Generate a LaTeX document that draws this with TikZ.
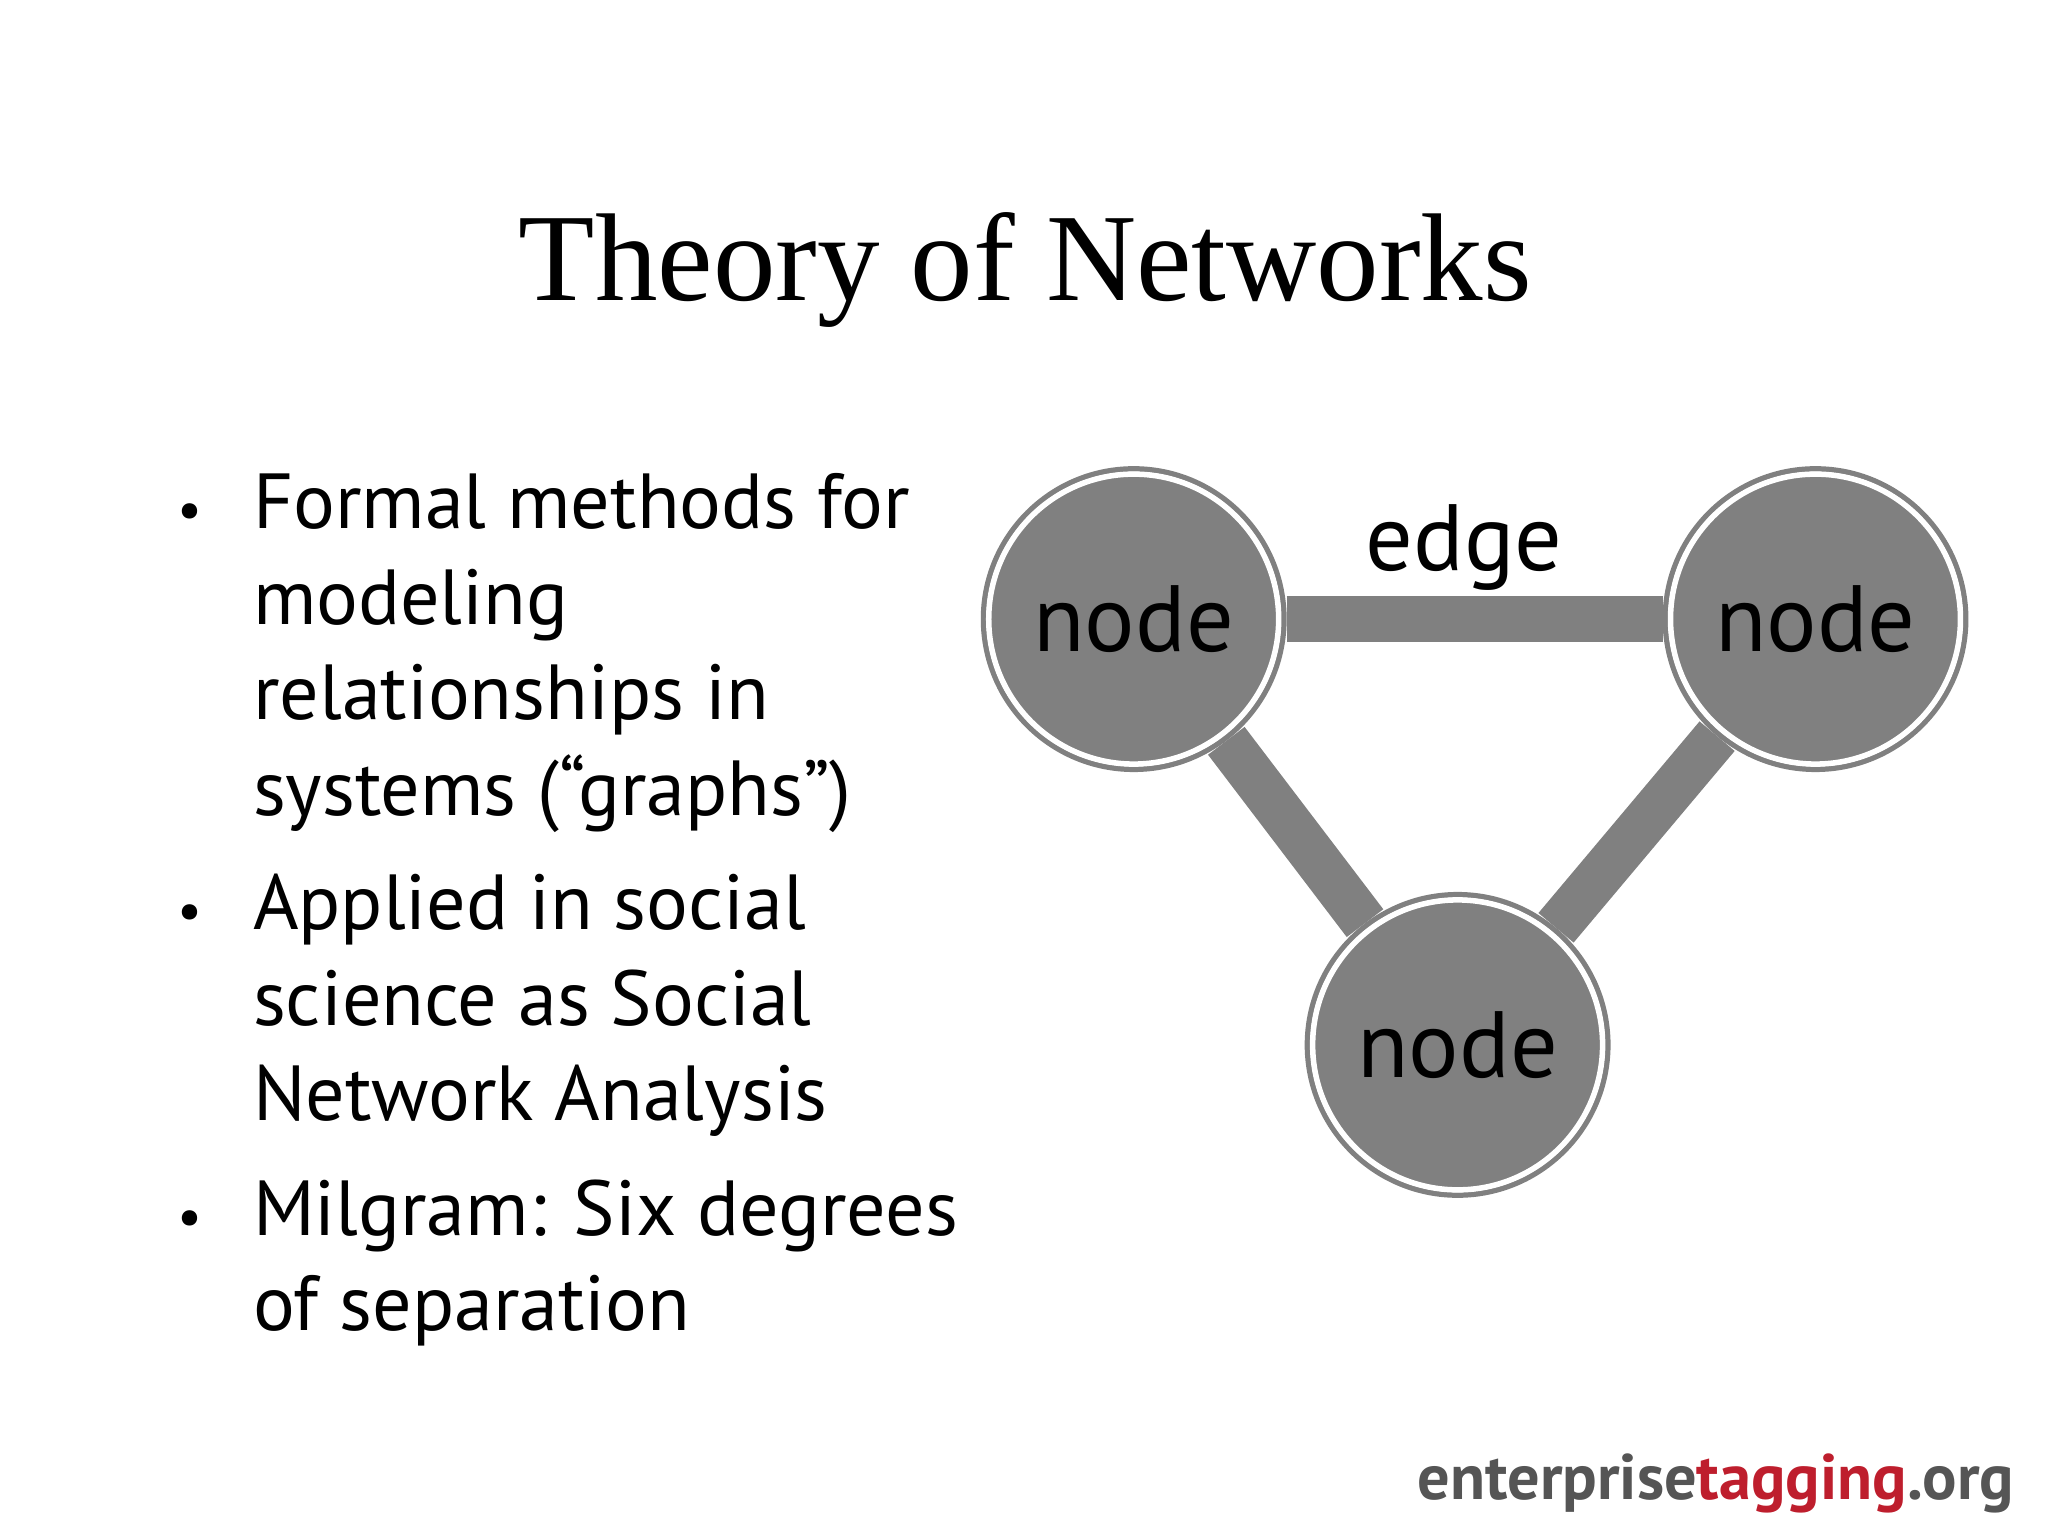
\documentclass[tikz,border=0pt]{standalone}
\usepackage{fontspec}
\setmainfont{Liberation Serif}
\newfontfamily\bodyfont{PT Sans}
\newfontfamily\logofont{PT Sans}
\definecolor{ngray}{RGB}{128,128,128}
\definecolor{logogray}{RGB}{85,85,85}
\definecolor{logored}{RGB}{190,30,45}
\begin{document}
\begin{tikzpicture}[x=0.01cm,y=-0.01cm,
  line/.style={font=\bodyfont\fontsize{17}{20}\selectfont,anchor=base west,inner sep=0},
  netnode/.style={circle,fill=ngray,draw=white,line width=1.2pt,minimum size=222*0.01cm,inner sep=0,
     font=\bodyfont\fontsize{20.5}{24}\selectfont,text=black},
  ring/.style={circle,draw=ngray,line width=1.2pt,minimum size=230*0.01cm,inner sep=0},
  netedge/.style={ngray,line width=10pt}]
\useasboundingbox (0,0) rectangle (1568,1176);
\node[font=\fontsize{27.2}{32}\selectfont,anchor=base] (title) at (785,230) {Theory of Networks};
% bullets
\foreach \y in {405,712,946} \node[line,font=\bodyfont\fontsize{12}{14}\selectfont] at (135,\y) {•};
\node[line] (l1) at (193,405) {Formal methods for};
\node[line] (l2) at (193,478) {modeling};
\node[line] (l3) at (193,551) {relationships in};
\node[line] (l4) at (193,624) {systems (“graphs”)};
\node[line] (l5) at (193,712) {Applied in social};
\node[line] (l6) at (193,785) {science as Social};
\node[line] (l7) at (193,858) {Network Analysis};
\node[line] (l8) at (193,946) {Milgram: Six degrees};
\node[line] (l9) at (193,1019) {of separation};
% network
\node[ring] (ra) at (868,474) {};
\node[ring] (rb) at (1390,474) {};
\node[ring] (rc) at (1116,800) {};
\draw[netedge] (ra) -- (rb);
\draw[netedge] (ra) -- (rc);
\draw[netedge] (rb) -- (rc);
\node[netnode] (a) at (868,474) {node};
\node[netnode] (b) at (1390,474) {node};
\node[netnode] (c) at (1116,800) {node};
\node[font=\bodyfont\fontsize{20.5}{24}\selectfont,anchor=base] (e) at (1121,437) {edge};
% logo
\node[anchor=base east,inner sep=0,font=\logofont\bfseries\fontsize{14}{17}\selectfont] (logo) at (1543,1148)
  {\textcolor{logogray}{enterprise}\textcolor{logored}{tagging}\textcolor{logogray}{.org}};
\end{tikzpicture}
\end{document}
